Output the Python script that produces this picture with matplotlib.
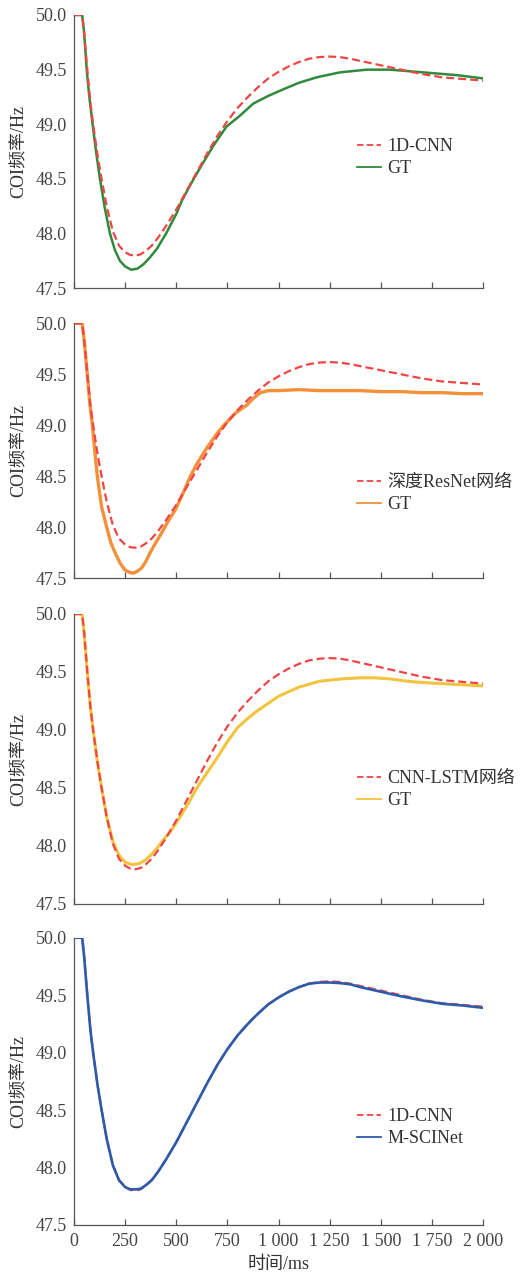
import matplotlib
matplotlib.use("Agg")
import matplotlib.pyplot as plt

plt.rcParams['font.family'] = ['Liberation Serif', 'Noto Sans CJK SC', 'DejaVu Sans']
plt.rcParams['text.color'] = '#333333'
plt.rcParams['axes.labelcolor'] = '#333333'
plt.rcParams['xtick.color'] = '#444444'
plt.rcParams['ytick.color'] = '#444444'

# ---- data ----
t_pred = [0, 40, 50, 65, 80, 95, 115, 135, 160, 190, 220, 250, 275, 300, 325, 350, 380, 410,
          450, 500, 550, 600, 650, 700, 750, 800, 850, 900, 950, 1000, 1050, 1100, 1150, 1200,
          1250, 1300, 1350, 1400, 1450, 1500, 1600, 1700, 1800, 1900, 2000]
f_pred = [50.00, 50.00, 49.83, 49.50, 49.20, 48.98, 48.72, 48.50, 48.25, 48.02, 47.89, 47.83,
          47.805, 47.80, 47.81, 47.84, 47.89, 47.96, 48.07, 48.22, 48.39, 48.56, 48.73, 48.89,
          49.03, 49.15, 49.25, 49.34, 49.42, 49.48, 49.53, 49.57, 49.60, 49.615, 49.62, 49.615,
          49.60, 49.58, 49.56, 49.54, 49.50, 49.46, 49.43, 49.415, 49.40]

t_gt1 = [0, 40, 50, 62, 75, 91, 110, 127, 150, 176, 200, 225, 250, 280, 310, 340, 370, 405, 450,
         500, 527, 570, 616, 680, 746, 812, 877, 950, 1023, 1100, 1187, 1300, 1431, 1545, 1708,
         1871, 2000]
f_gt1 = [50.00, 50.00, 49.83, 49.50, 49.25, 49.00, 48.72, 48.50, 48.24, 48.00, 47.85, 47.75,
         47.70, 47.67, 47.68, 47.72, 47.78, 47.86, 48.00, 48.18, 48.30, 48.45, 48.60, 48.80,
         48.98, 49.08, 49.19, 49.26, 49.32, 49.38, 49.43, 49.475, 49.50, 49.50, 49.475, 49.45,
         49.42]

t_gt2 = [0, 40, 50, 65, 78, 90, 100, 114, 135, 160, 180, 201, 225, 250, 270, 290, 310, 330, 350,
         372, 400, 430, 460, 495, 530, 569, 600, 650, 700, 732, 790, 846, 880, 912, 950, 1000,
         1100, 1200, 1300, 1400, 1500, 1600, 1700, 1800, 1900, 2000]
f_gt2 = [50.00, 50.00, 49.83, 49.50, 49.20, 49.00, 48.78, 48.50, 48.20, 48.00, 47.85, 47.75,
         47.65, 47.58, 47.56, 47.55, 47.57, 47.60, 47.66, 47.75, 47.85, 47.95, 48.06, 48.17,
         48.32, 48.50, 48.62, 48.78, 48.92, 49.00, 49.12, 49.20, 49.27, 49.32, 49.34, 49.34,
         49.35, 49.34, 49.34, 49.34, 49.33, 49.33, 49.32, 49.32, 49.31, 49.31]

t_gt3 = [0, 40, 50, 65, 80, 95, 115, 135, 160, 190, 220, 250, 283, 320, 350, 380, 410, 440, 470,
         500, 550, 601, 650, 700, 750, 800, 850, 900, 950, 1000, 1050, 1100, 1141, 1200, 1304,
         1400, 1467, 1550, 1631, 1700, 1794, 1900, 2000]
f_gt3 = [50.00, 50.00, 49.83, 49.50, 49.20, 48.98, 48.72, 48.50, 48.25, 48.04, 47.92, 47.86,
         47.84, 47.85, 47.88, 47.93, 47.99, 48.06, 48.12, 48.20, 48.34, 48.50, 48.63, 48.76,
         48.90, 49.02, 49.10, 49.17, 49.23, 49.29, 49.33, 49.37, 49.39, 49.42, 49.44, 49.45,
         49.45, 49.44, 49.42, 49.41, 49.40, 49.39, 49.38]

t_ms = t_pred
f_ms = [50.00, 50.00, 49.83, 49.50, 49.20, 48.98, 48.72, 48.50, 48.25, 48.02, 47.89, 47.83,
        47.81, 47.81, 47.815, 47.845, 47.89, 47.96, 48.07, 48.22, 48.39, 48.56, 48.73, 48.89,
        49.03, 49.15, 49.25, 49.34, 49.42, 49.48, 49.53, 49.57, 49.60, 49.61, 49.61, 49.605,
        49.595, 49.57, 49.55, 49.53, 49.49, 49.455, 49.425, 49.41, 49.39]

pred_labels = ['1D-CNN', '深度ResNet网络', 'CNN-LSTM网络', '1D-CNN']
true_labels = ['GT', 'GT', 'GT', 'M-SCINet']
true_t = [t_gt1, t_gt2, t_gt3, t_ms]
true_f = [f_gt1, f_gt2, f_gt3, f_ms]
true_colors = ['#2f8a3c', '#f5903a', '#f2c43e', '#2c5bab']
true_lw = [1.8, 2.4, 2.2, 1.9]

x_ticks = [0, 250, 500, 750, 1000, 1250, 1500, 1750, 2000]
x_ticklabels = ['0', '250', '500', '750', '1 000', '1 250', '1 500', '1 750', '2 000']
y_ticks = [47.5, 48.0, 48.5, 49.0, 49.5, 50.0]
y_ticklabels = ['47.5', '48.0', '48.5', '49.0', '49.5', '50.0']

# ---- layout ----
W, H = 523, 1275
fig = plt.figure(figsize=(W / 100, H / 100), dpi=100)
panels_px = [(15, 288.3), (323.3, 578.3), (614, 904), (937.7, 1225)]
legend_top_px = [138, 474, 770, 1108]
left_px, right_px = 74, 483
FS = 13

for i, (top, bot) in enumerate(panels_px):
    ax = fig.add_axes([left_px / W, 1 - bot / H, (right_px - left_px) / W, (bot - top) / H])
    ax.plot(t_pred, f_pred, color='#f04545', lw=1.6, dashes=(3.6, 1.8), label=pred_labels[i], zorder=2)
    ax.plot(true_t[i], true_f[i], color=true_colors[i], lw=true_lw[i], label=true_labels[i],
            zorder=3 if i == 3 else 1.5)
    ax.set_xlim(0, 2000)
    ax.set_ylim(47.5, 50.0)
    for s in ['top', 'right']:
        ax.spines[s].set_visible(False)
    for s in ['left', 'bottom']:
        ax.spines[s].set_color('#555555')
        ax.spines[s].set_linewidth(0.9)
    ax.set_xticks(x_ticks)
    ax.set_yticks(y_ticks)
    ax.set_yticklabels(y_ticklabels, fontsize=FS)
    ax.tick_params(axis='x', direction='in', length=4, width=0.9, color='#555555', pad=6)
    ax.tick_params(axis='y', length=0, pad=5)
    if i == 3:
        ax.set_xticklabels(x_ticklabels, fontsize=FS)
        ax.set_xlabel('时间/ms', fontsize=FS, labelpad=4)
    else:
        ax.set_xticklabels([])
    ax.set_ylabel('COI频率/Hz', fontsize=FS, labelpad=6)
    leg = ax.legend(loc='upper left', bbox_to_anchor=(357 / W, 1 - legend_top_px[i] / H),
                    bbox_transform=fig.transFigure, frameon=False, fontsize=FS, borderpad=0,
                    borderaxespad=0, handlelength=1.35, handletextpad=0.35, labelspacing=0.28)
    for ln in leg.get_lines():
        ln.set_linewidth(1.3)

fig.savefig('out.png', dpi=100)
